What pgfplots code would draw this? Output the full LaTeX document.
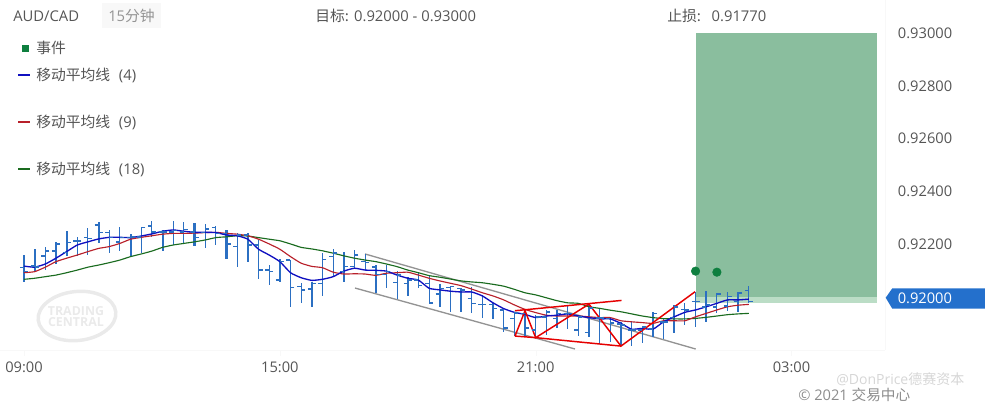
\documentclass[border=0pt]{standalone}
\usepackage{pgfplots}
\usepackage{pgfplotstable}
\usepackage{fontspec}
\pgfplotsset{compat=1.18}
\setmainfont{Open Sans}
\newfontfamily\cjk{Noto Sans CJK SC}
\definecolor{barblue}{HTML}{2B6FC2}
\definecolor{maBlue}{HTML}{1010C0}
\definecolor{maRed}{HTML}{B8202A}
\definecolor{maGreen}{HTML}{1A6B1F}
\definecolor{zoneDark}{HTML}{8ABE9E}
\definecolor{zoneLight}{HTML}{BBDDC6}
\definecolor{eventGreen}{HTML}{0E7F3F}
\definecolor{tagBlue}{HTML}{2470CC}
\definecolor{txt}{HTML}{555555}
\definecolor{faint}{HTML}{F8F8F8}
\definecolor{logo}{HTML}{EAEAEA}
\definecolor{chip}{HTML}{F8F8F8}
\pgfdeclareplotmark{lefttick}{\pgfpathmoveto{\pgfqpoint{-\pgfplotmarksize}{0pt}}\pgfpathlineto{\pgfqpoint{0pt}{0pt}}\pgfusepathqstroke}
\pgfdeclareplotmark{righttick}{\pgfpathmoveto{\pgfqpoint{\pgfplotmarksize}{0pt}}\pgfpathlineto{\pgfqpoint{0pt}{0pt}}\pgfusepathqstroke}
% i  w (thick drawn)  h  l  o  c  ma4  ma9  ma18
\pgfplotstableread{
i w h l o c a b d
0 0 0.92159 0.92058 0.92111 0.92096 0.92117 0.92092 0.92067
1 1 0.92181 0.92098 0.92117 0.92114 0.92113 0.92096 0.92071
2 0 0.92191 0.92102 0.92156 0.92174 0.92125 0.92113 0.92077
3 0 0.92209 0.92125 0.92174 0.92200 0.92147 0.92134 0.92083
4 1 0.92250 0.92156 0.92169 0.92206 0.92172 0.92147 0.92092
5 0 0.92226 0.92156 0.92213 0.92213 0.92197 0.92159 0.92102
6 0 0.92260 0.92159 0.92225 0.92222 0.92209 0.92172 0.92113
7 1 0.92283 0.92206 0.92273 0.92244 0.92220 0.92184 0.92121
8 0 0.92254 0.92167 0.92245 0.92226 0.92226 0.92191 0.92130
9 0 0.92264 0.92174 0.92209 0.92225 0.92226 0.92203 0.92140
10 1 0.92238 0.92155 0.92225 0.92228 0.92225 0.92219 0.92153
11 0 0.92266 0.92167 0.92228 0.92264 0.92231 0.92226 0.92163
12 0 0.92288 0.92228 0.92269 0.92247 0.92239 0.92232 0.92174
13 1 0.92254 0.92175 0.92247 0.92247 0.92249 0.92238 0.92188
14 0 0.92288 0.92197 0.92247 0.92251 0.92254 0.92241 0.92197
15 0 0.92283 0.92203 0.92247 0.92256 0.92249 0.92241 0.92203
16 1 0.92279 0.92193 0.92247 0.92226 0.92245 0.92242 0.92209
17 0 0.92277 0.92187 0.92245 0.92258 0.92245 0.92244 0.92216
18 0 0.92269 0.92197 0.92264 0.92241 0.92244 0.92245 0.92225
19 1 0.92254 0.92144 0.92241 0.92200 0.92235 0.92241 0.92228
20 0 0.92241 0.92115 0.92191 0.92235 0.92232 0.92238 0.92232
21 1 0.92244 0.92134 0.92235 0.92197 0.92219 0.92232 0.92231
22 0 0.92216 0.92067 0.92197 0.92102 0.92181 0.92219 0.92225
23 0 0.92121 0.92045 0.92102 0.92096 0.92159 0.92201 0.92219
24 1 0.92143 0.92056 0.92064 0.92134 0.92134 0.92181 0.92213
25 0 0.92140 0.91963 0.92140 0.92035 0.92092 0.92153 0.92201
26 0 0.92052 0.91976 0.92039 0.92027 0.92073 0.92128 0.92188
27 1 0.92056 0.91963 0.92030 0.92052 0.92063 0.92116 0.92182
28 0 0.92166 0.92005 0.92052 0.92143 0.92067 0.92111 0.92175
29 0 0.92181 0.92077 0.92153 0.92167 0.92077 0.92094 0.92166
30 1 0.92169 0.92056 0.92096 0.92115 0.92098 0.92087 0.92156
31 0 0.92178 0.92109 0.92115 0.92159 0.92109 0.92088 0.92147
32 0 0.92162 0.92102 0.92134 0.92131 0.92102 0.92087 0.92140
33 1 0.92121 0.92014 0.92113 0.92086 0.92101 0.92082 0.92134
34 0 0.92121 0.92035 0.92086 0.92096 0.92098 0.92090 0.92125
35 0 0.92100 0.91992 0.92054 0.92083 0.92083 0.92092 0.92115
36 1 0.92075 0.92005 0.92052 0.92064 0.92071 0.92094 0.92102
37 0 0.92096 0.92033 0.92064 0.92043 0.92064 0.92083 0.92092
38 0 0.92083 0.91976 0.92052 0.91977 0.92033 0.92071 0.92081
39 1 0.92048 0.91963 0.92011 0.92033 0.92027 0.92061 0.92075
40 0 0.92042 0.91944 0.92035 0.92039 0.92022 0.92052 0.92068
41 1 0.92035 0.91944 0.92033 0.92027 0.92019 0.92043 0.92061
42 0 0.92039 0.91938 0.91995 0.91976 0.92019 0.92030 0.92057
43 0 0.92008 0.91919 0.91972 0.91972 0.92004 0.92016 0.92054
44 1 0.91976 0.91916 0.91972 0.91957 0.91978 0.92004 0.92048
45 0 0.91957 0.91866 0.91951 0.91883 0.91956 0.91989 0.92041
46 0 0.91944 0.91852 0.91919 0.91939 0.91942 0.91970 0.92029
47 1 0.91951 0.91852 0.91938 0.91883 0.91934 0.91953 0.92016
48 0 0.91932 0.91847 0.91875 0.91925 0.91922 0.91941 0.92008
49 0 0.91951 0.91856 0.91925 0.91944 0.91928 0.91931 0.91997
50 1 0.91951 0.91884 0.91919 0.91938 0.91931 0.91928 0.91986
51 0 0.91966 0.91878 0.91938 0.91938 0.91936 0.91928 0.91978
52 0 0.91932 0.91853 0.91875 0.91925 0.91928 0.91928 0.91976
53 1 0.91970 0.91847 0.91865 0.91958 0.91922 0.91925 0.91963
54 0 0.91957 0.91822 0.91920 0.91920 0.91917 0.91922 0.91957
55 0 0.91925 0.91831 0.91919 0.91902 0.91917 0.91922 0.91950
56 1 0.91906 0.91814 0.91898 0.91894 0.91900 0.91910 0.91944
57 0 0.91910 0.91814 0.91875 0.91875 0.91878 0.91906 0.91936
58 0 0.91887 0.91825 0.91875 0.91886 0.91881 0.91903 0.91928
59 1 0.91942 0.91850 0.91878 0.91938 0.91878 0.91900 0.91922
60 0 0.91919 0.91840 0.91906 0.91906 0.91906 0.91910 0.91918
61 1 0.91970 0.91865 0.91922 0.91963 0.91925 0.91910 0.91917
62 0 0.91976 0.91894 0.91953 0.91951 0.91942 0.91910 0.91917
63 0 0.92020 0.91885 0.91982 0.91982 0.91951 0.91925 0.91919
64 1 0.92024 0.91906 0.91963 0.91970 0.91963 0.91938 0.91923
65 0 0.92014 0.91938 0.91963 0.92011 0.91976 0.91951 0.91928
66 0 0.92018 0.91947 0.91966 0.92001 0.91989 0.91963 0.91933
67 1 0.92020 0.91944 0.91982 0.92016 0.91989 0.91969 0.91936
68 0 0.92043 0.91978 0.92024 0.91982 0.91992 0.91972 0.91938
}\bars
\begin{document}
\begin{tikzpicture}
\path[use as bounding box] (0pt,0pt) rectangle (738.75pt,-309pt);
\begin{axis}[
  at={(0pt,-262.5pt)}, anchor=south west,
  scale only axis, width=663.75pt, height=262.5pt,
  xmin=-2.251, xmax=80.77, ymin=0.917992, ymax=0.93125,
  axis x line*=bottom, axis y line*=right,
  axis line style={draw=faint,-},
  xtick={0,24,48,72}, xticklabels={09:00,15:00,21:00,03:00},
  ytick={0.922,0.924,0.926,0.928,0.93},
  scaled y ticks=false,
  tick align=outside, major tick length=4.5pt,
  xtick style={draw=faint}, ytick style={draw=none},
  tick label style={font=\fontsize{11}{13}\selectfont, text=txt, inner sep=0pt},
  xticklabel style={anchor=north, yshift=-4pt},
  yticklabel style={anchor=west, xshift=5pt, /pgf/number format/.cd, fixed, fixed zerofill, precision=5, assume math mode=true},
  unbounded coords=discard, clip=false,
  filter discard warning=false,
]
% target zone
\addplot[fill=zoneDark, draw=none] coordinates {(63,0.93)(80.02,0.93)(80.02,0.92)(63,0.92)} -- cycle;
\addplot[fill=zoneLight, draw=none] coordinates {(63,0.92)(80.02,0.92)(80.02,0.91977)(63,0.91977)} -- cycle;
% trend channel
\addplot[gray!85, line width=1pt, mark=none] coordinates {(31.05,0.92034)(51.69,0.91803)};
\addplot[gray!85, line width=1pt, mark=none] coordinates {(31.99,0.92163)(63.01,0.91803)};
% OHLC
\addplot[draw=none, mark=none, barblue, error bars/.cd, y dir=both, y explicit, error mark=none, error bar style={line width=0.8pt, barblue}]
  table[x expr={\thisrow{w}==0 ? \thisrow{i} : nan}, y=c, y error plus expr=\thisrow{h}-\thisrow{c}, y error minus expr=\thisrow{c}-\thisrow{l}] {\bars};
\addplot[draw=none, mark=none, barblue, error bars/.cd, y dir=both, y explicit, error mark=none, error bar style={line width=1.6pt, barblue}]
  table[x expr={\thisrow{w}==1 ? \thisrow{i} : nan}, y=c, y error plus expr=\thisrow{h}-\thisrow{c}, y error minus expr=\thisrow{c}-\thisrow{l}] {\bars};
\addplot[only marks, barblue, mark=lefttick, mark size=3pt, mark options={line width=1.1pt}] table[x=i,y=o] {\bars};
\addplot[only marks, barblue, mark=righttick, mark size=3pt, mark options={line width=1.1pt}] table[x=i,y=c] {\bars};
% moving averages
\addplot[maGreen, line width=0.85pt, smooth, tension=0.3, mark=none] table[x=i,y=d] {\bars};
\addplot[maRed, line width=0.85pt, smooth, tension=0.3, mark=none] table[x=i,y=b] {\bars};
\addplot[maBlue, line width=1pt, smooth, tension=0.3, mark=none] table[x=i,y=a] {\bars};
% pattern lines
\addplot[red!90!black, line width=1.1pt, mark=none] coordinates {(46.06,0.91852)(47,0.91948)(48,0.91846)(53,0.91973)(56,0.91814)(62.95,0.92020)};
\addplot[red!90!black, line width=1.1pt, mark=none] coordinates {(46.06,0.91852)(48,0.91846)(56,0.91814)};
\addplot[red!90!black, line width=1.1pt, mark=none] coordinates {(46.06,0.91948)(56.05,0.91987)};
% events
\addplot[only marks, mark=*, mark size=3.2pt, eventGreen, mark options={draw=eventGreen, fill=eventGreen}] coordinates {(63,0.92098)(65,0.92094)};
\end{axis}
\begin{scope}[x=0.75pt,y=-0.75pt, every node/.style={inner sep=0pt, anchor=west, text=txt, font=\fontsize{11.1}{13}\selectfont}]
% logo watermark
\draw[logo, line width=2.6pt, rotate around={6:(77,316)}] (77,316) ellipse (39 and 24.5);
\node[anchor=center, text=logo, font=\bfseries\fontsize{9.3}{10}\selectfont] at (76,311) {TRADING};
\node[anchor=center, text=logo, font=\bfseries\fontsize{9.3}{10}\selectfont] at (76,322) {CENTRAL};
% header
\node at (13,16) {AUD/CAD};
\fill[chip] (102,3) rectangle (161,28);
\node[text=black!42] at (108,16) {15{\cjk 分钟}};
\node at (315,16) {{\cjk 目标:} 0.92000 - 0.93000};
\node at (667,16) {{\cjk 止损:}\hspace{8pt}0.91770};
% legend
\fill[eventGreen] (21.5,44.5) rectangle (29,52);
\node at (36,48) {\cjk 事件};
\draw[maBlue, line width=1.5pt] (18,75) -- (30,75);
\node at (36,75.5) {{\cjk 移动平均线}\hspace{6.5pt}(4)};
\draw[maRed, line width=1.5pt] (18,122) -- (30,122);
\node at (36,122.5) {{\cjk 移动平均线}\hspace{6.5pt}(9)};
\draw[maGreen, line width=1.5pt] (18,169) -- (30,169);
\node at (36,169.5) {{\cjk 移动平均线}\hspace{6.5pt}(18)};
% price tag
\fill[tagBlue] (885.7,297.7) -- (892.3,288.3) -- (985,288.3) -- (985,308.7) -- (892.3,308.7) -- cycle;
\node[text=white, font=\fontsize{11}{13}\selectfont] at (897.5,298) {0.92000};
% footer
\node[text=black!16, font=\fontsize{10.5}{12}\selectfont] at (836,379.5) {@DonPrice{\cjk 德赛资本}};
\node[text=black!45, font=\fontsize{11}{13}\selectfont] at (798,394.5) {\textcopyright{} 2021 {\cjk 交易中心}};
\end{scope}
\end{tikzpicture}
\end{document}
